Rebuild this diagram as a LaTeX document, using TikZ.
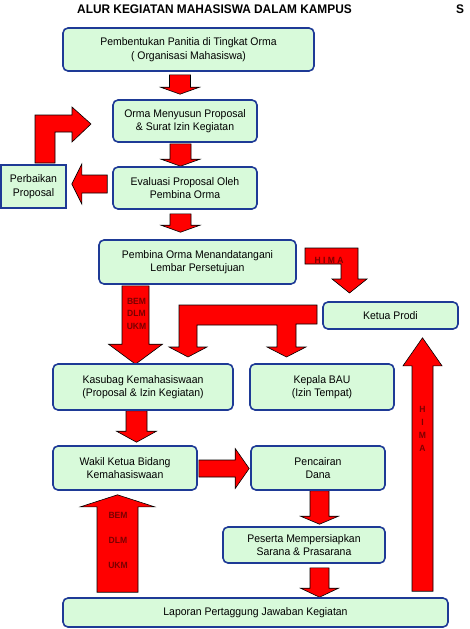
\documentclass[tikz,border=0pt]{standalone}
\usepackage{fontspec}
\setmainfont{Liberation Sans}
\newfontfamily\flowfont[FakeStretch=0.95]{Liberation Sans}
\usepackage{tikz}
\usetikzlibrary{calc, backgrounds}
\definecolor{FLOWfill}{HTML}{D8FADA}
\definecolor{FLOWedge}{HTML}{1E3A96}
\definecolor{FLOWred}{HTML}{FF0000}
\definecolor{FLOWlabel}{HTML}{7A0000}
% vertical block arrow: #1+#2 start, #3+#4 tip, #5 shaft half, #6 head half, #7 head length (signed)
\newcommand{\vblock}[7]{%
    \filldraw[blockarrow] let \p1 = ($(#1)+(#2)$), \p2 = ($(#3)+(#4)$) in
        ({\x1-#5},\y1) -- ({\x1+#5},\y1) -- ({\x1+#5},{\y2+(#7)}) -- ({\x1+#6},{\y2+(#7)})
        -- (\x1,\y2) -- ({\x1-#6},{\y2+(#7)}) -- ({\x1-#5},{\y2+(#7)}) -- cycle;
}
% horizontal block arrow, same arguments
\newcommand{\hblock}[7]{%
    \filldraw[blockarrow] let \p1 = ($(#1)+(#2)$), \p2 = ($(#3)+(#4)$) in
        (\x1,{\y1-#5}) -- (\x1,{\y1+#5}) -- ({\x2+(#7)},{\y1+#5}) -- ({\x2+(#7)},{\y1+#6})
        -- (\x2,\y1) -- ({\x2+(#7)},{\y1-#6}) -- ({\x2+(#7)},{\y1-#5}) -- cycle;
}

\begin{document}
\begin{tikzpicture}[
    x=1pt, y=-1pt,
    flowbox/.style={draw=FLOWedge, line width=1.6pt, rounded corners=5pt,
                    fill=FLOWfill, align=center, inner sep=0pt,
                    font=\flowfont\fontsize{11}{13.5}\selectfont},
    plainbox/.style={flowbox, sharp corners},
    blockarrow/.style={fill=FLOWred, draw=black, line width=0.6pt, line join=miter},
    arrowlabel/.style={font=\flowfont\fontsize{9}{12.5}\selectfont\bfseries,
                       text=FLOWlabel, align=center, inner sep=0pt},
    widelabel/.style={arrowlabel, font=\flowfont\fontsize{9}{25}\selectfont\bfseries},
    himalabel/.style={arrowlabel, font=\flowfont\fontsize{9}{13}\selectfont\bfseries},
    titlefont/.style={anchor=base, inner sep=0pt,
                      font=\flowfont\fontsize{12.5}{14}\selectfont\bfseries},
]
\useasboundingbox (0,0) rectangle (470,629);

% --- Title ---
\node[titlefont] (judul) at (214.5,13.5) {ALUR KEGIATAN MAHASISWA DALAM KAMPUS};
\node[titlefont] (judulS) at (460,13.5) {S};

% --- Boxes (centres in pixel coordinates, y downwards) ---
\node[flowbox, minimum width=251pt, minimum height=43pt] (panitia) at (188.5,49.5)
    {Pembentukan Panitia di Tingkat Orma\\( Organisasi Mahasiswa)};
\node[flowbox, minimum width=144pt, minimum height=42pt] (menyusun) at (185,121)
    {Orma Menyusun Proposal\\\& Surat Izin Kegiatan};
\node[flowbox, minimum width=144pt, minimum height=42pt] (evaluasi) at (185,188)
    {Evaluasi Proposal Oleh\\Pembina Orma};
\node[plainbox, minimum width=65pt, minimum height=43pt] (perbaikan) at (33.5,186.5)
    {Perbaikan\\Proposal};
\node[flowbox, minimum width=197pt, minimum height=44pt] (pembina) at (197.5,262)
    {Pembina Orma Menandatangani\\Lembar Persetujuan};
\node[flowbox, minimum width=135pt, minimum height=27pt] (prodi) at (390.5,315.5)
    {Ketua Prodi};
\node[flowbox, minimum width=180pt, minimum height=46pt] (kasubag) at (143,387)
    {Kasubag Kemahasiswaan\\(Proposal \& Izin Kegiatan)};
\node[flowbox, minimum width=144pt, minimum height=46pt] (bau) at (322,387)
    {Kepala BAU\\(Izin Tempat)};
\node[flowbox, minimum width=144pt, minimum height=44pt] (wakil) at (125,468)
    {Wakil Ketua Bidang\\Kemahasiswaan};
\node[flowbox, minimum width=134pt, minimum height=44pt] (dana) at (318,468)
    {Pencairan\\Dana};
\node[flowbox, minimum width=162pt, minimum height=36pt] (sarana) at (304,545)
    {Peserta Mempersiapkan\\Sarana \& Prasarana};
\node[flowbox, minimum width=385pt, minimum height=29pt] (laporan) at (255.5,612.5)
    {Laporan Pertaggung Jawaban Kegiatan};

% --- Block arrows, behind the boxes ---
\begin{scope}[on background layer]
    \vblock{panitia.south}{-8.5,3}{menyusun.north}{0,-5}{10.5}{19.5}{7}
    \vblock{menyusun.south}{-4.5,1}{evaluasi.north}{0,0}{10.5}{19.5}{7}
    \hblock{evaluasi.west}{-5,-4}{perbaikan.east}{5,0}{9}{20}{10}
    \vblock{evaluasi.south}{-4.5,4}{pembina.north}{0,-7}{10.5}{19.5}{7}
    \vblock{pembina.south}{-62,1}{kasubag.north}{0,1}{13.5}{27}{20}
    \vblock{kasubag.south}{-6.5,0}{wakil.north}{0,-3}{10.5}{20}{11}
    \hblock{wakil.east}{1,0.5}{dana.west}{-1,0}{8.5}{20}{-14}
    \vblock{laporan.north}{-138,-5}{wakil.south}{0,4}{20.5}{37}{-12}
    \vblock{dana.south}{1.5,0}{sarana.north}{0,-2}{9.5}{19}{8}
    \vblock{sarana.south}{15.5,4}{laporan.north}{0,0}{9.5}{19}{9}
    \vblock{laporan.north}{167,-6}{prodi.south}{0,8}{10.5}{19.5}{-28}
    % Perbaikan -> Menyusun (elbow)
    \filldraw[blockarrow] (35,163) -- (35,115) -- (72,115) -- (72,107) -- (91,124)
        -- (72,142) -- (72,132) -- (55,132) -- (55,163) -- cycle;
    % Pembina -> Ketua Prodi (elbow)
    \filldraw[blockarrow] (305,248) -- (358,248) -- (358,279) -- (367,279) -- (349.5,293)
        -- (332,279) -- (341,279) -- (341,264) -- (305,264) -- cycle;
    % Ketua Prodi -> Kasubag and Kepala BAU (fork)
    \filldraw[blockarrow] (317,305) -- (179,305) -- (179,347) -- (169,347) -- (188,357)
        -- (207,347) -- (197,347) -- (197,325) -- (277,325) -- (277,347) -- (267,347)
        -- (286.5,357) -- (306,347) -- (296,347) -- (296,324) -- (317,324) -- cycle;
\end{scope}

% --- Labels on the arrows ---
\node[arrowlabel] (himaA) at (329,260) {H I M A};
\node[arrowlabel] (bemA) at (136.5,313.5) {BEM\\DLM\\UKM};
\node[widelabel] (bemB) at (118,540) {BEM\\DLM\\UKM};
\node[himalabel] (himaB) at (422.5,428.5) {H\\I\\M\\A};

\end{tikzpicture}
\end{document}
